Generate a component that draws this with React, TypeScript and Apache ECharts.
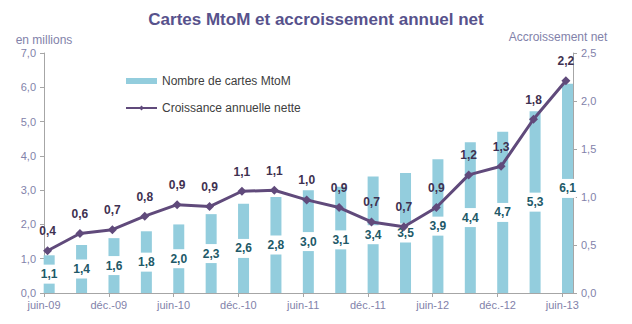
import React, { useEffect, useRef } from 'react';
import * as echarts from 'echarts';

const quarters = ['juin-09', 'sept.-09', 'déc.-09', 'mars-10', 'juin-10', 'sept.-10', 'déc.-10', 'mars-11', 'juin-11', 'sept.-11', 'déc.-11', 'mars-12', 'juin-12', 'sept.-12', 'déc.-12', 'mars-13', 'juin-13'];
const cards = [1.1, 1.4, 1.6, 1.8, 2.0, 2.3, 2.6, 2.8, 3.0, 3.1, 3.4, 3.5, 3.9, 4.4, 4.7, 5.3, 6.1];
const growth = [0.44, 0.62, 0.66, 0.8, 0.92, 0.9, 1.06, 1.07, 0.97, 0.89, 0.74, 0.69, 0.89, 1.23, 1.32, 1.81, 2.21];
const labelTicks = [0, 2, 4, 6, 8, 10, 12, 14, 16];

const FONT = 'Liberation Sans';
const AXIS_TXT = '#8282AA';
const fmt = (v: number) => v.toFixed(1).replace('.', ',');

export default function App() {
  const ref = useRef<HTMLDivElement>(null);
  useEffect(() => {
    const chart = echarts.init(ref.current!, null, { renderer: 'svg' });
    chart.setOption({
      animation: false,
      textStyle: { fontFamily: FONT },
      title: {
        text: 'Cartes MtoM et accroissement annuel net',
        left: 'center',
        top: 6,
        textStyle: { fontFamily: FONT, fontSize: 17, fontWeight: 'bold', color: '#57528C' },
      },
      legend: {
        orient: 'vertical',
        left: 120,
        top: 70,
        itemWidth: 31,
        itemHeight: 6,
        itemGap: 15,
        textStyle: { fontFamily: FONT, fontSize: 12, color: '#404040' },
        data: [
          { name: 'Nombre de cartes MtoM', icon: 'rect' },
          { name: 'Croissance annuelle nette' },
        ],
      },
      grid: { left: 44, right: 59, top: 53, bottom: 31 },
      xAxis: {
        type: 'value',
        min: 0,
        max: 16.33,
        interval: 2,
        splitLine: { show: false },
        axisLine: { show: true, lineStyle: { color: '#A6A6A6', width: 1 } },
        axisTick: { show: true, length: 4, customValues: labelTicks, lineStyle: { color: '#A6A6A6' } },
        axisLabel: {
          customValues: labelTicks,
          formatter: (v: number) => quarters[Math.round(v)] ?? '',
          color: AXIS_TXT,
          fontSize: 11,
          margin: 6,
          fontFamily: FONT,
        },
      },
      yAxis: [
        {
          type: 'value',
          min: 0,
          max: 7,
          interval: 1,
          name: 'en millions',
          nameLocation: 'end',
          nameGap: 7,
          nameTextStyle: { color: AXIS_TXT, fontSize: 12, fontFamily: FONT },
          splitLine: { show: false },
          axisLine: { show: true, lineStyle: { color: '#A6A6A6' } },
          axisTick: { show: true, length: 4, lineStyle: { color: '#A6A6A6' } },
          axisLabel: { formatter: fmt, color: AXIS_TXT, fontSize: 11, margin: 8, fontFamily: FONT },
        },
        {
          type: 'value',
          min: 0,
          max: 2.5,
          interval: 0.5,
          position: 'right',
          name: 'Accroissement net',
          nameLocation: 'end',
          nameGap: 10,
          nameTextStyle: { color: AXIS_TXT, fontSize: 12, fontFamily: FONT, padding: [0, 30, 0, 0] },
          splitLine: { show: false },
          axisLine: { show: true, lineStyle: { color: '#A6A6A6' } },
          axisTick: { show: true, length: 4, lineStyle: { color: '#A6A6A6' } },
          axisLabel: { formatter: fmt, color: AXIS_TXT, fontSize: 11, margin: 8, fontFamily: FONT },
        },
      ],
      series: [
        {
          name: 'Nombre de cartes MtoM',
          type: 'bar',
          yAxisIndex: 0,
          barWidth: 11,
          itemStyle: { color: '#93CDDD' },
          data: cards.map((v, i) => [i + 0.16, v]),
          label: {
            show: true,
            position: 'inside',
            formatter: (p: any) => fmt(p.value[1]),
            color: '#215968',
            fontWeight: 'bold',
            fontSize: 12,
            fontFamily: FONT,
            backgroundColor: '#ffffff',
            padding: [4, 0, 3, 0],
          },
        },
        {
          name: 'Croissance annuelle nette',
          type: 'line',
          yAxisIndex: 1,
          symbol: 'diamond',
          symbolSize: 9,
          itemStyle: { color: '#604A7B' },
          lineStyle: { color: '#604A7B', width: 3 },
          data: growth.map((v, i) => [i + 0.11, v]),
          label: {
            show: true,
            position: 'top',
            distance: 9,
            formatter: (p: any) => fmt(p.value[1]),
            color: '#3F3151',
            fontWeight: 'bold',
            fontSize: 12,
            fontFamily: FONT,
          },
        },
      ],
    });
    return () => chart.dispose();
  }, []);
  return <div ref={ref} style={{ width: 632, height: 324, position: 'absolute', left: 0, top: 0 }} />;
}
